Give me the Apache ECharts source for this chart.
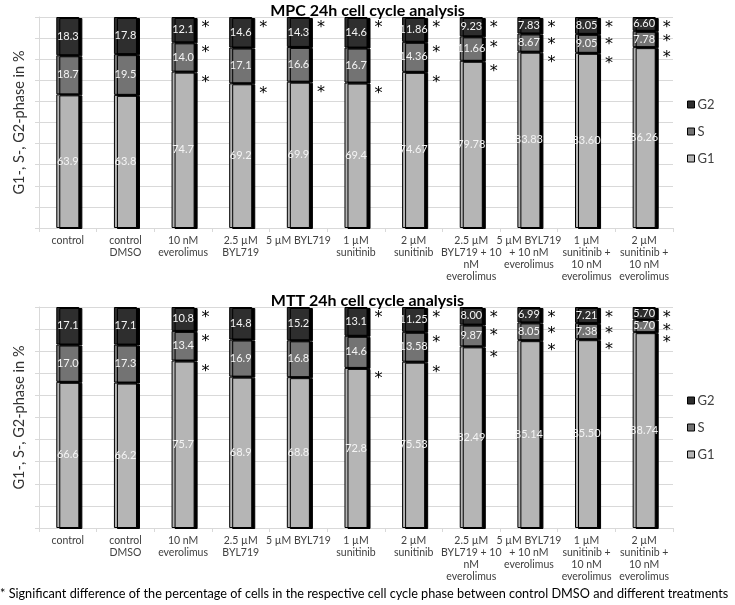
<!DOCTYPE html>
<html>
<head>
<meta charset="utf-8">
<script src="https://cdn.jsdelivr.net/npm/echarts@6/dist/echarts.min.js"></script>
<style>html,body{margin:0;padding:0;background:#fff}#c{width:735px;height:605px}</style>
</head>
<body>
<div id="c"></div>
<script>
var categories = ['control', 'control\nDMSO', '10 nM\neverolimus', '2.5 µM\nBYL719', '5 µM BYL719',
  '1 µM\nsunitinib', '2 µM\nsunitinib', '2.5 µM\nBYL719 + 10\nnM\neverolimus',
  '5 µM BYL719\n+ 10 nM\neverolimus', '1 µM\nsunitinib +\n10 nM\neverolimus', '2 µM\nsunitinib +\n10 nM\neverolimus'];
var decimals = [1, 1, 1, 1, 1, 1, 2, 2, 2, 2, 2];

// MPC 24h
var mpcG1 = [63.9, 63.8, 74.7, 69.2, 69.9, 69.4, 74.67, 79.78, 83.83, 83.60, 86.26];
var mpcS  = [18.7, 19.5, 14.0, 17.1, 16.6, 16.7, 14.36, 11.66, 8.67, 9.05, 7.78];
var mpcG2 = [18.3, 17.8, 12.1, 14.6, 14.3, 14.6, 11.86, 9.23, 7.83, 8.05, 6.60];
var mpcSigG1 = [0, 0, 1, 1, 1, 1, 1, 1, 1, 1, 1];
var mpcSigS  = [0, 0, 1, 0, 0, 0, 1, 1, 1, 1, 1];
var mpcSigG2 = [0, 0, 1, 1, 1, 1, 1, 1, 1, 1, 1];

// MTT 24h
var mttG1 = [66.6, 66.2, 75.7, 68.9, 68.8, 72.8, 75.53, 82.49, 85.14, 85.50, 88.74];
var mttS  = [17.0, 17.3, 13.4, 16.9, 16.8, 14.6, 13.58, 9.87, 8.05, 7.38, 5.70];
var mttG2 = [17.1, 17.1, 10.8, 14.8, 15.2, 13.1, 11.25, 8.00, 6.99, 7.21, 5.70];
var mttSigG1 = [0, 0, 1, 0, 0, 1, 1, 1, 1, 1, 1];
var mttSigS  = [0, 0, 1, 0, 0, 0, 1, 1, 1, 1, 1];
var mttSigG2 = [0, 0, 1, 0, 0, 1, 1, 1, 1, 1, 1];

var FONT = 'Lato';
var COLORS = {G1: '#b5b5b5', S: '#737373', G2: '#2e2e2e'};

function pct(arr, a, b, c) {
  return arr.map(function (v, i) { return v / (a[i] + b[i] + c[i]) * 100; });
}

function buildSeries(idx, g1, s, g2, sg1, ss, sg2) {
  var parts = [['G1', g1, sg1], ['S', s, ss], ['G2', g2, sg2]];
  var out = [];
  parts.forEach(function (p) {
    var raw = p[1];
    var vals = pct(raw, g1, s, g2);
    out.push({
      name: p[0], type: 'bar', stack: 'main' + idx, xAxisIndex: idx, yAxisIndex: idx,
      barWidth: '40%', barGap: '-100%',
      data: vals.map(function (v, i) { return {value: v, raw: raw[i], dec: decimals[i]}; }),
      itemStyle: {color: COLORS[p[0]], borderColor: '#000', borderWidth: 1,
        shadowColor: '#000', shadowOffsetX: 3, shadowOffsetY: 1, shadowBlur: 0},
      label: {show: true, position: 'inside', color: '#f4f4f4', fontSize: 11, fontFamily: FONT,
        formatter: function (d) { return d.data.raw.toFixed(d.data.dec); }},
      emphasis: {disabled: true}, silent: true, animation: false
    });
  });
  parts.forEach(function (p) {
    var sig = p[2];
    var vals = pct(p[1], g1, s, g2);
    out.push({
      name: p[0] + ' sig', type: 'bar', stack: 'sig' + idx, xAxisIndex: idx, yAxisIndex: idx,
      barWidth: '40%', barGap: '-100%',
      data: vals.map(function (v, i) { return {value: v, sig: sig[i]}; }),
      itemStyle: {color: 'rgba(0,0,0,0)'},
      label: {show: true, position: ['100%', 0], offset: [7, 3], color: '#000', fontSize: 16,
        fontFamily: 'DejaVu Sans',
        formatter: function (d) { return d.data.sig ? '*' : ''; }},
      emphasis: {disabled: true}, silent: true, animation: false
    });
  });
  return out;
}

function xAxis(idx) {
  return {
    type: 'category', gridIndex: idx, data: categories,
    axisLine: {lineStyle: {color: '#d9d9d9'}},
    axisTick: {show: true, interval: 0, length: 4, lineStyle: {color: '#d9d9d9'}},
    axisLabel: {interval: 0, color: '#404040', fontSize: 10.5, fontFamily: FONT, lineHeight: 12, margin: 7}
  };
}
function yAxis(idx) {
  return {
    type: 'value', gridIndex: idx, min: 0, max: 100, interval: 10,
    axisLabel: {show: false},
    axisLine: {show: true, lineStyle: {color: '#d9d9d9'}},
    axisTick: {show: true, length: 4, lineStyle: {color: '#d9d9d9'}},
    splitLine: {lineStyle: {color: '#d9d9d9'}},
    name: 'G1-, S-, G2-phase in %', nameLocation: 'middle', nameGap: 12, nameRotate: 90,
    nameTextStyle: {fontSize: 14.5, color: '#333', fontFamily: FONT}
  };
}
function legend(top) {
  return {
    data: ['G2', 'S', 'G1'], orient: 'vertical', left: 682, top: top, itemWidth: 7, itemHeight: 7,
    itemGap: 14, icon: 'rect', selectedMode: false,
    itemStyle: {borderColor: '#000', borderWidth: 1},
    textStyle: {fontSize: 13, color: '#404040', fontFamily: FONT, padding: [0, 0, 0, -2]}
  };
}

var chart = echarts.init(document.getElementById('c'));
chart.setOption({
  animation: false,
  title: [
    {text: 'MPC 24h cell cycle analysis', left: 'center', top: -2,
      textStyle: {fontSize: 16, fontWeight: 'bold', color: '#000', fontFamily: FONT}},
    {text: 'MTT 24h cell cycle analysis', left: 'center', top: 288,
      textStyle: {fontSize: 16, fontWeight: 'bold', color: '#000', fontFamily: FONT}},
    {text: '* Significant difference of the percentage of cells in the respective cell cycle phase between control DMSO and different treatments',
      left: 0, top: 587, padding: 0,
      textStyle: {fontSize: 12.7, fontWeight: 'normal', color: '#000', fontFamily: FONT}}
  ],
  legend: [legend(93), legend(389)],
  grid: [
    {left: 39, right: 62, top: 17, height: 211},
    {left: 39, right: 62, top: 307, height: 221}
  ],
  xAxis: [xAxis(0), xAxis(1)],
  yAxis: [yAxis(0), yAxis(1)],
  series: buildSeries(0, mpcG1, mpcS, mpcG2, mpcSigG1, mpcSigS, mpcSigG2)
    .concat(buildSeries(1, mttG1, mttS, mttG2, mttSigG1, mttSigS, mttSigG2))
});
</script>
</body>
</html>
